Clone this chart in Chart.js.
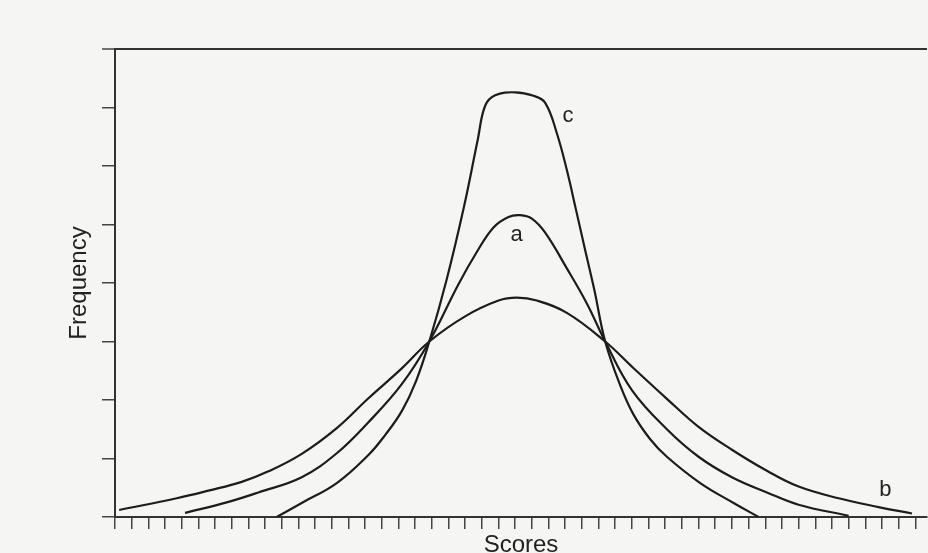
<!DOCTYPE html>
<html><head><meta charset="utf-8">
<script src="https://cdn.jsdelivr.net/npm/chart.js@4/dist/chart.umd.min.js"></script>
<style>
html,body{margin:0;padding:0;background:#f5f5f3;overflow:hidden;width:928px;height:553px}
canvas{display:block}
</style>
</head><body>
<canvas id="chart" width="928" height="570"></canvas>
<script>
// Curve b (flattest / platykurtic)
const xB=[0.25,3.7,5.6,7.6,9.2,11.2,13.3,15.2,17.2,18.85,21.0,23.0,24.1,25.3,27.1,29.4,31.0,33.1,35.0,37.0,39.1,41.0,43.4,45.8,47.8];
const yB=[0.12,0.32,0.45,0.60,0.78,1.08,1.52,2.03,2.54,3.0,3.43,3.70,3.75,3.70,3.49,3.0,2.57,2.02,1.54,1.15,0.79,0.52,0.32,0.17,0.06];
// Curve a (normal / mesokurtic)
const xA=[4.2,6.7,8.6,11.2,13.3,15.2,17.2,18.85,20.6,21.7,22.7,23.6,24.3,25.0,25.8,27.1,28.3,29.4,31.0,33.1,35.0,37.0,39.1,41.0,44.0];
const yA=[0.07,0.25,0.42,0.68,1.09,1.62,2.27,3.0,3.98,4.53,4.95,5.13,5.16,5.10,4.86,4.25,3.65,3.0,2.17,1.50,1.03,0.68,0.42,0.21,0.02];
// Curve c (peaked / leptokurtic)
const xC=[9.7,11.2,13.3,15.2,16.2,17.2,18.05,18.85,19.9,20.95,21.75,22.2,22.8,24.0,25.1,25.8,26.5,27.1,27.65,28.2,28.75,29.4,30.3,31.1,32.1,33.1,35.1,37.1,38.6];
const yC=[0.0,0.24,0.58,1.06,1.40,1.81,2.32,3.0,4.07,5.33,6.44,7.03,7.21,7.26,7.20,7.08,6.56,5.93,5.25,4.56,3.88,3.0,2.25,1.75,1.33,1.03,0.58,0.24,0.0];

const curveNames=['b','a','c'];
const labelNames=['a','b','c'];
const labelX=[24.08,46.2,27.17];
const labelY=[4.83,0.46,6.85];

const series=[[xB,yB],[xA,yA],[xC,yC]];

const curveLabels={
  id:'curveLabels',
  afterDatasetsDraw(chart){
    const {ctx,scales:{x,y}}=chart;
    ctx.save();
    ctx.font='22px "Liberation Sans", Arial, sans-serif';
    ctx.fillStyle='#222';
    ctx.textAlign='center';
    ctx.textBaseline='middle';
    labelNames.forEach((t,i)=>ctx.fillText(t,x.getPixelForValue(labelX[i]),y.getPixelForValue(labelY[i])));
    ctx.restore();
  }
};

new Chart(document.getElementById('chart'),{
  type:'line',
  data:{
    datasets:series.map((s,i)=>({
      label:curveNames[i],
      data:s[0].map((v,j)=>({x:v,y:s[1][j]})),
      borderColor:'#1c1c1c',
      borderWidth:2.2,
      pointRadius:0,
      fill:false,
      tension:0.4
    }))
  },
  options:{
    responsive:false,
    animation:false,
    devicePixelRatio:1,
    layout:{padding:{top:49,right:1,left:0,bottom:0}},
    plugins:{legend:{display:false},tooltip:{enabled:false}},
    scales:{
      x:{
        type:'linear',min:0,max:48.7,
        afterFit:s=>{s.height=53;},
        ticks:{display:false,stepSize:1,includeBounds:false},
        grid:{drawOnChartArea:false,tickLength:12,color:'#444',lineWidth:1.5,tickWidth:1.5},
        border:{color:'#333',width:2},
        title:{display:true,text:'Scores',color:'#222',font:{family:'"Liberation Sans", Arial, sans-serif',size:24},padding:{top:0,bottom:10}}
      },
      y:{
        type:'linear',min:0,max:8,
        afterFit:s=>{s.width=115;},
        ticks:{display:false,stepSize:1},
        grid:{
          drawOnChartArea:true,
          color:c=>(c.tick&&c.tick.value===8)?'#333':'rgba(0,0,0,0)',
          lineWidth:c=>(c.tick&&c.tick.value===8)?2:1.5,
          tickColor:'#444',tickWidth:1.5,tickLength:13
        },
        border:{color:'#333',width:2},
        title:{display:true,text:'Frequency',color:'#222',font:{family:'"Liberation Sans", Arial, sans-serif',size:24},padding:{top:65,bottom:0}}
      }
    }
  },
  plugins:[curveLabels]
});
</script>
</body></html>
